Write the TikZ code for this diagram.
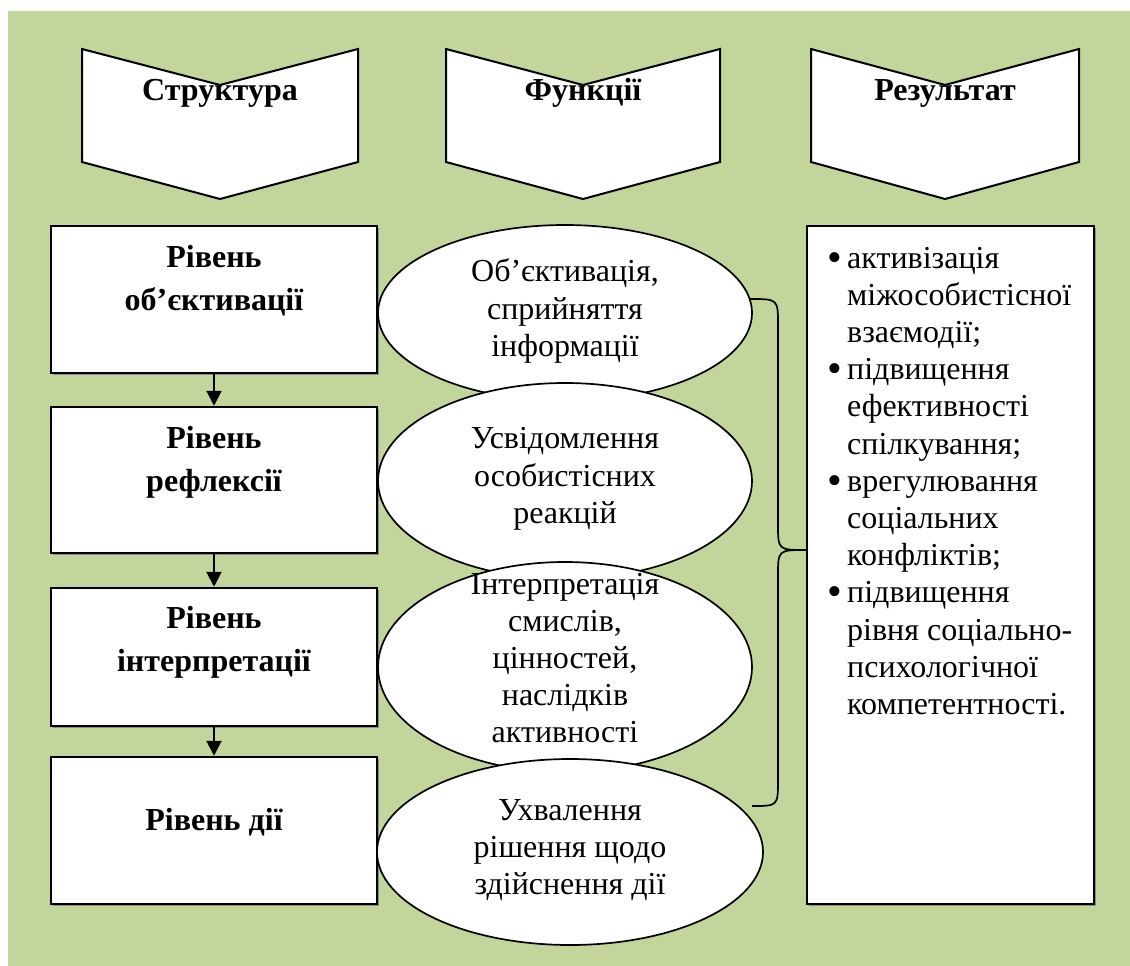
\documentclass[tikz,border=0pt]{standalone}
\usepackage{fontspec}
\setmainfont{Liberation Serif}
\usetikzlibrary{arrows.meta,shapes.geometric,shadows}
\definecolor{bggreen}{RGB}{194,214,155}
\newcommand{\toplines}[2]{\parbox[t]{#1}{\centering #2}}
\newcommand{\itembullet}{\leavevmode\llap{\raisebox{-3pt}{\fontsize{42}{42}\selectfont •}\hspace{5pt}}}
\begin{document}
\begin{tikzpicture}[x=1pt,y=-1pt,
  chevronline/.style={draw=black,line width=2pt,fill=white,line join=miter},
  headtext/.style={font=\fontsize{32}{37}\selectfont\bfseries,inner sep=0,anchor=base},
  levelbox/.style={rectangle,draw=black,line width=2.5pt,fill=white,inner sep=0,
    minimum width=326pt,
    drop shadow={shadow xshift=1.6pt,shadow yshift=-1.6pt,fill=black!45,opacity=1}},
  leveltext/.style={font=\fontsize{32}{43}\selectfont\bfseries,inner sep=0,anchor=base},
  funcell/.style={ellipse,draw=black,line width=1.7pt,fill=white,inner sep=0},
  functext/.style={font=\fontsize{32}{37.2}\selectfont,align=center,inner sep=0},
  resbox/.style={rectangle,draw=black,line width=2.5pt,fill=white,inner sep=0,
    drop shadow={shadow xshift=1.6pt,shadow yshift=-1.6pt,fill=black!45,opacity=1}},
  arr/.style={line width=2pt,-{Triangle[length=15pt,width=15pt]}},
  bracestyle/.style={draw=black,line width=1.7pt}
]
\useasboundingbox (0,0) rectangle (1130,966);
\fill[bggreen] (8,11) rectangle (1130,966);

% column headers
\draw[chevronline] (82,49) -- (220,85) -- (358,49) -- (358,162) -- (220,199) -- (82,162) -- cycle;
\draw[chevronline] (446,49) -- (583,85) -- (720,49) -- (720,162) -- (583,199) -- (446,162) -- cycle;
\draw[chevronline] (811,49) -- (945,85) -- (1079,49) -- (1079,162) -- (945,199) -- (811,162) -- cycle;
\node[headtext] (h1) at (220,100) {Структура};
\node[headtext] (h2) at (583,100) {Функції};
\node[headtext] (h3) at (945,100) {Результат};

% structure levels
\node[levelbox,minimum height=147pt] (l1) at (214,299.5) {};
\node[levelbox,minimum height=146pt] (l2) at (214,480) {};
\node[levelbox,minimum height=138pt] (l3) at (214,657) {};
\node[levelbox,minimum height=147pt] (l4) at (214,830.5) {};
\node[leveltext] (t1) at (214,267) {\toplines{320pt}{Рівень\\об’єктивації}};
\node[leveltext] (t2) at (214,448) {\toplines{320pt}{Рівень\\рефлексії}};
\node[leveltext] (t3) at (214,628) {\toplines{320pt}{Рівень\\інтерпретації}};
\node[leveltext] (t4) at (214,830) {Рівень дії};
\draw[arr] (l1.south) -- (l2.north);
\draw[arr] (l2.south) -- (l3.north);
\draw[arr] (l3.south) -- (l4.north);

% functions
\node[funcell,minimum width=374pt,minimum height=176pt] (e1) at (565,313) {};
\node[functext] (f1) at (565,311) {Об’єктивація,\\сприйняття\\інформації};
\node[funcell,minimum width=374pt,minimum height=196pt] (e2) at (565,481) {};
\node[functext] (f2) at (565,479) {Усвідомлення\\особистісних\\реакцій};
\node[funcell,minimum width=374pt,minimum height=210pt] (e3) at (565,667) {};
\node[functext] (f3) at (565,658) {Інтерпретація\\смислів,\\цінностей,\\наслідків\\активності};
\node[funcell,minimum width=386pt,minimum height=186pt] (e4) at (570,852) {};
\node[functext] (f4) at (570,850) {Ухвалення\\рішення щодо\\здійснення дії};

% results
\node[resbox,minimum width=287pt,minimum height=678pt] (r) at (950.5,565) {};
\node[inner sep=0,anchor=base west] (rt) at (847,268) {\parbox[t]{225pt}{%
  \fontsize{32}{37.2}\selectfont\noindent
  \itembullet активізація\\
  міжособистісної\\
  взаємодії;\\
  \itembullet підвищення\\
  ефективності\\
  спілкування;\\
  \itembullet врегулювання\\
  соціальних\\
  конфліктів;\\
  \itembullet підвищення\\
  \makebox[225pt][s]{рівня соціально-}\\
  психологічної\\
  компетентності.}};

% brace gathering the functions into the result
\coordinate (bt) at (750,299);
\coordinate (bm) at (806,550);
\coordinate (bb) at (752,806);
\draw[bracestyle] (bt) .. controls (778,299) .. (778,325) -- (778,524)
  .. controls (778,550) .. (bm)
  .. controls (778,550) .. (778,576) -- (778,780)
  .. controls (778,806) .. (bb);
\end{tikzpicture}
\end{document}
